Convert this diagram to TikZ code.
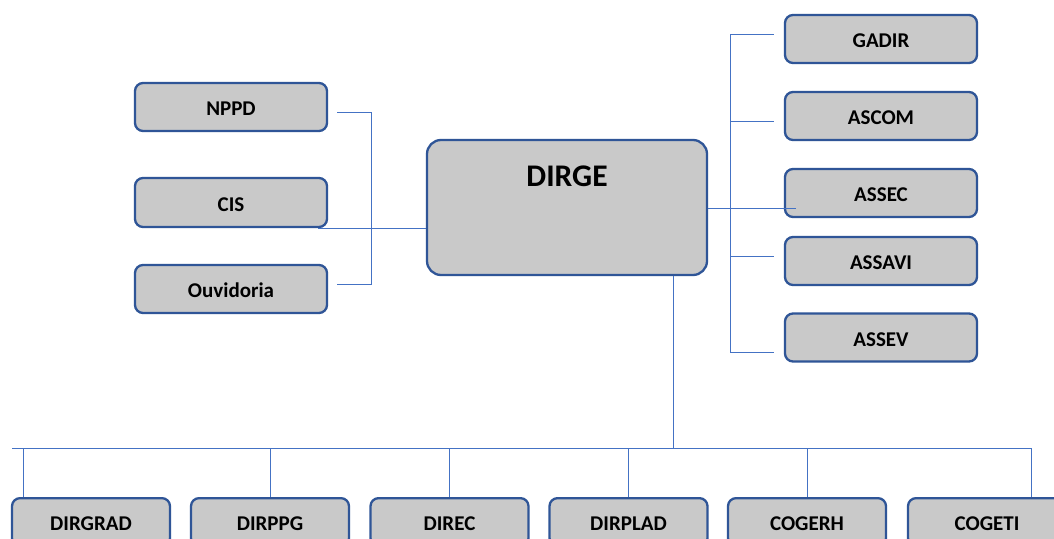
\documentclass[tikz,border=0pt]{standalone}
\usepackage{fontspec}
\setmainfont{Carlito}
\definecolor{boxgray}{HTML}{C9C9C9}
\definecolor{boxblue}{HTML}{2F5597}
\definecolor{linkblue}{HTML}{4472C4}
\tikzset{
  unit/.style={draw=boxblue, line width=2.3pt, fill=boxgray, rounded corners=8pt,
    font=\bfseries\fontsize{21}{23}\selectfont, text=black, inner sep=0pt},
  sidebox/.style={unit, minimum width=192pt, minimum height=48pt,
    text height=17.5pt, text depth=0pt},
  basebox/.style={unit, minimum width=158pt, minimum height=48pt,
    text height=17.5pt, text depth=0pt},
  link/.style={draw=linkblue, line width=1pt}
}
\begin{document}
\begin{tikzpicture}[x=1pt, y=-1pt]
\clip (0,0) rectangle (1054,538);
\fill[white] (0,0) rectangle (1054,538);

% central unit
\node[unit, rounded corners=14pt, minimum width=280pt, text height=46pt, text depth=89pt,
  font=\bfseries\fontsize{31.5}{33}\selectfont] (dirge) at (567,207.5) {DIRGE};

% left column
\node[sidebox] (nppd) at (231,107) {NPPD};
\node[sidebox, minimum height=49pt] (cis) at (231,202.5) {CIS};
\node[sidebox] (ouv) at (231,289) {Ouvidoria};

% right column
\node[sidebox] (gadir) at (881,39) {GADIR};
\node[sidebox] (ascom) at (881,116) {ASCOM};
\node[sidebox] (assec) at (881,193) {ASSEC};
\node[sidebox] (assavi) at (881,261) {ASSAVI};
\node[sidebox] (assev) at (881,337.5) {ASSEV};

% bottom row
\node[basebox, anchor=north] (dirgrad) at (91,497) {DIRGRAD};
\node[basebox, anchor=north] (dirppg) at (270,497) {DIRPPG};
\node[basebox, anchor=north] (direc) at (449.5,497) {DIREC};
\node[basebox, anchor=north] (dirplad) at (628.5,497) {DIRPLAD};
\node[basebox, anchor=north] (cogerh) at (807,497) {COGERH};
\node[basebox, anchor=north] (cogeti) at (987,497) {COGETI};

% left bracket
\coordinate (lb1) at (337,112);
\coordinate (lb2) at (371,112);
\coordinate (lb3) at (371,284);
\coordinate (lb4) at (337,284);
\draw[link] (lb1) -- (lb2) -- (lb3) -- (lb4);
\draw[link] ([xshift=-10pt]cis.south east) -- (dirge.west |- cis.south);

% right bracket
\coordinate (rt) at (730,34);
\coordinate (rb) at (730,352);
\draw[link] (rt) -- (rb);
\draw[link] (rt) -- ++(44,0);
\draw[link] (730,121) -- ++(44,0);
\draw[link] (730,256) -- ++(44,0);
\draw[link] (rb) -- ++(44,0);
\draw[link] (dirge.east |- 0,208) -- ([xshift=12pt]assec.west |- 0,208);

% bottom bus
\coordinate (busL) at (12,448);
\coordinate (busR) at (1031,448);
\draw[link] (busL) -- (busR);
\draw[link] (dirge.south -| 673,0) -- (673,448);
\draw[link] (23,448) -- (23,497);
\draw[link] (dirppg.north |- 0,448) -- (dirppg.north);
\draw[link] (direc.north |- 0,448) -- (direc.north);
\draw[link] (dirplad.north |- 0,448) -- (dirplad.north);
\draw[link] (cogerh.north |- 0,448) -- (cogerh.north);
\draw[link] (busR) -- (1031,497);
\end{tikzpicture}
\end{document}
